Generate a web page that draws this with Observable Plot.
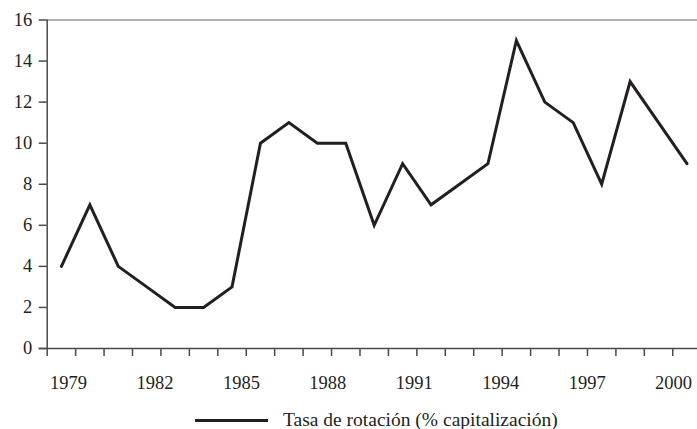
<!DOCTYPE html>
<html>
<head>
<meta charset="utf-8">
<script src="https://cdn.jsdelivr.net/npm/d3@7"></script>
<script src="https://cdn.jsdelivr.net/npm/@observablehq/plot@0.6"></script>
<style>
  html, body { margin: 0; padding: 0; background: #fff; }
  #chart { width: 697px; height: 429px; font-family: "Liberation Serif", "Times New Roman", serif; }
  #chart svg { display: block; }
  .legend { display: flex; align-items: center; height: 18px; line-height: 18px; margin-top: 6px; padding-left: 195px; font-size: 19.5px; color: #231f20; }
  .legend .swatch { width: 73px; height: 3px; background: #231f20; margin-right: 15px; }
</style>
</head>
<body>
<div id="chart"></div>
<script>
// Data
const years = [1979, 1980, 1981, 1982, 1983, 1984, 1985, 1986, 1987, 1988, 1989, 1990,
               1991, 1992, 1993, 1994, 1995, 1996, 1997, 1998, 1999, 2000, 2001];
const turnover = [4, 7, 4, 3, 2, 2, 3, 10, 11, 10, 10, 6, 9, 7, 8, 9, 15, 12, 11, 8, 13, 11, 9];
const xTickLabels = ["1979", "1982", "1985", "1988", "1991", "1994", "1997", "2000"];
const yTicks = [0, 2, 4, 6, 8, 10, 12, 14, 16];
const seriesName = "Tasa de rotación (% capitalización)";

const data = years.map((yr, i) => ({i, year: yr, value: turnover[i]}));

// layout helpers
const xMin = -0.5;
const xMax = years.length - 0.63;
const boundaries = d3.range(-0.5, years.length - 1, 1); // category borders
const labelPos = xTickLabels.map((_, k) => 0.25 + k * 3.04);
const labelMap = new Map(labelPos.map((p, k) => [p, xTickLabels[k]]));
const axisColor = "#4a4a4a";
const ink = "#231f20";

const plot = Plot.plot({
  width: 697,
  height: 405,
  marginTop: 19.5,
  marginBottom: 57,
  marginLeft: 46.7,
  marginRight: 0,
  style: {fontFamily: "Liberation Serif, Times New Roman, serif", fontSize: "18.5px", color: ink, background: "#fff"},
  x: {domain: [xMin, xMax], axis: null},
  y: {domain: [0, yTicks[yTicks.length - 1]], axis: null},
  marks: [
    Plot.ruleY([yTicks[yTicks.length - 1]], {stroke: "#9a9a9a", strokeWidth: 1.5}),
    Plot.ruleX([xMin], {stroke: axisColor, strokeWidth: 1.5}),
    Plot.ruleY([0], {stroke: axisColor, strokeWidth: 1.5, insetLeft: -8}),
    Plot.axisY({ticks: yTicks, tickSize: 8, tickPadding: 7, stroke: axisColor, strokeWidth: 1.5, fill: ink, fontSize: 18.5, tickFormat: d => String(d), label: null}),
    Plot.axisX({ticks: boundaries, tickSize: 8, stroke: axisColor, strokeWidth: 1.5, tickFormat: () => "", label: null}),
    Plot.axisX({ticks: labelPos, tickSize: 0, tickPadding: 27, fill: ink, fontSize: 18.5, tickFormat: d => labelMap.get(d), label: null}),
    Plot.line(data, {x: "i", y: "value", stroke: ink, strokeWidth: 3, strokeLinejoin: "miter", strokeMiterlimit: 10})
  ]
});

const chart = document.getElementById("chart");
chart.appendChild(plot);
const legend = document.createElement("div");
legend.className = "legend";
legend.innerHTML = `<span class="swatch"></span><span>${seriesName}</span>`;
chart.appendChild(legend);
</script>
</body>
</html>
